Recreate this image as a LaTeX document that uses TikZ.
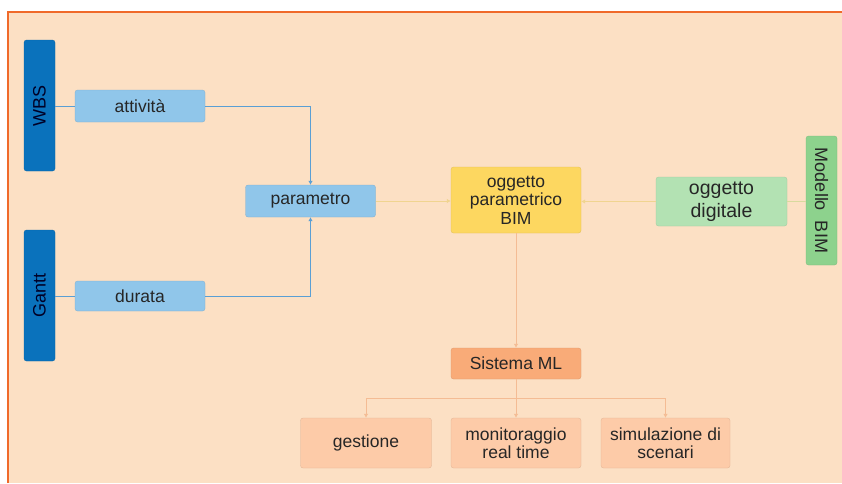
\documentclass[tikz,border=0pt]{standalone}
\usepackage{fontspec}
\setmainfont{Liberation Sans}
\usetikzlibrary{arrows.meta}

\definecolor{peach}{HTML}{FCE0C4}
\definecolor{frame}{HTML}{F06A2A}
\definecolor{barblue}{HTML}{0A72BC}
\definecolor{lightblue}{HTML}{90C6EA}
\definecolor{bimyellow}{HTML}{FDD760}
\definecolor{lightgreen}{HTML}{B3E2B3}
\definecolor{bargreen}{HTML}{8DD28D}
\definecolor{mlorange}{HTML}{F9AB78}
\definecolor{salmon}{HTML}{FDCBA8}
\definecolor{blueline}{HTML}{5A9FD4}
\definecolor{yellowline}{HTML}{F0D490}
\definecolor{orangeline}{HTML}{F4BC94}
\definecolor{txt}{HTML}{262626}

\begin{document}
\begin{tikzpicture}[x=1pt,y=-1pt,
  box/.style={rectangle,rounded corners=2.5pt,draw=#1!88!black,fill=#1,
    line width=0.3pt,text=txt,align=center,inner sep=0pt,
    font=\fontsize{17.5}{18.5}\selectfont},
  bar/.style={box=#1,minimum width=131pt,minimum height=31pt,
    font=\fontsize{18}{19}\selectfont},
  link/.style={draw=#1,line width=0.9pt},
  tip/.style={-{Latex[length=4pt,width=4.5pt]}}]

  \useasboundingbox (0,0) rectangle (842,483);
  \fill[peach] (8,12) rectangle (842,483);
  \draw[frame,line width=1.2pt] (8,483) -- (8,12) -- (842,12);

  % sorgenti
  \node[bar=barblue,rotate=90,text=black!85!blue] (wbs) at (39.5,105.5) {WBS};
  \node[bar=barblue,rotate=90,text=black!85!blue] (gantt) at (39.5,295.5) {Gantt};
  \node[box=lightblue,minimum width=130pt,minimum height=32pt] (attivita) at (140,106) {attività};
  \node[box=lightblue,minimum width=130pt,minimum height=30pt] (durata) at (140,296) {durata};
  \node[box=lightblue,minimum width=130pt,minimum height=32pt] (parametro) at (310.5,201) {parametro};

  % oggetto BIM
  \node[box=bimyellow,minimum width=130pt,minimum height=66pt] (bim) at (516,200) {oggetto\\parametrico\\BIM};
  \node[box=lightgreen,minimum width=131pt,minimum height=49pt,
    font=\fontsize{19.5}{23}\selectfont] (digitale) at (721.5,201.5) {oggetto\\digitale};
  \node[bar=bargreen,minimum width=129pt,rotate=-90] (modello) at (821.5,200.5) {Modello\ \ BIM};

  % sistema ML
  \node[box=mlorange,minimum width=130pt,minimum height=31pt] (sistema) at (516,363.5) {Sistema ML};
  \node[box=salmon,minimum width=131pt,minimum height=50pt] (gestione) at (366,443) {gestione};
  \node[box=salmon,minimum width=130pt,minimum height=50pt] (monitoraggio) at (516,443) {monitoraggio\\real time};
  \node[box=salmon,minimum width=129pt,minimum height=50pt] (simulazione) at (665.5,443) {simulazione di\\scenari};
  \coordinate (split) at (516,398);

  % connettori
  \draw[link=blueline] (attivita.west -| wbs.south) -- (attivita.west);
  \draw[link=blueline] (durata.west -| gantt.south) -- (durata.west);
  \draw[link=blueline,tip] (attivita.east) -| (parametro.north);
  \draw[link=blueline,tip] (durata.east) -| (parametro.south);
  \draw[link=yellowline,tip] (parametro.east) -- (bim.west |- parametro.east);
  \draw[link=yellowline,tip] (digitale.west) -- (bim.east |- digitale.west);
  \draw[link=yellowline!60!lightgreen] (digitale.east) -- (digitale.east -| modello.south);
  \draw[link=orangeline,tip] (bim.south) -- (sistema.north);
  \draw[link=orangeline,tip] (sistema.south) -- (monitoraggio.north);
  \draw[link=orangeline,tip] (split) -| (gestione.north);
  \draw[link=orangeline,tip] (split) -| (simulazione.north);

\end{tikzpicture}
\end{document}
